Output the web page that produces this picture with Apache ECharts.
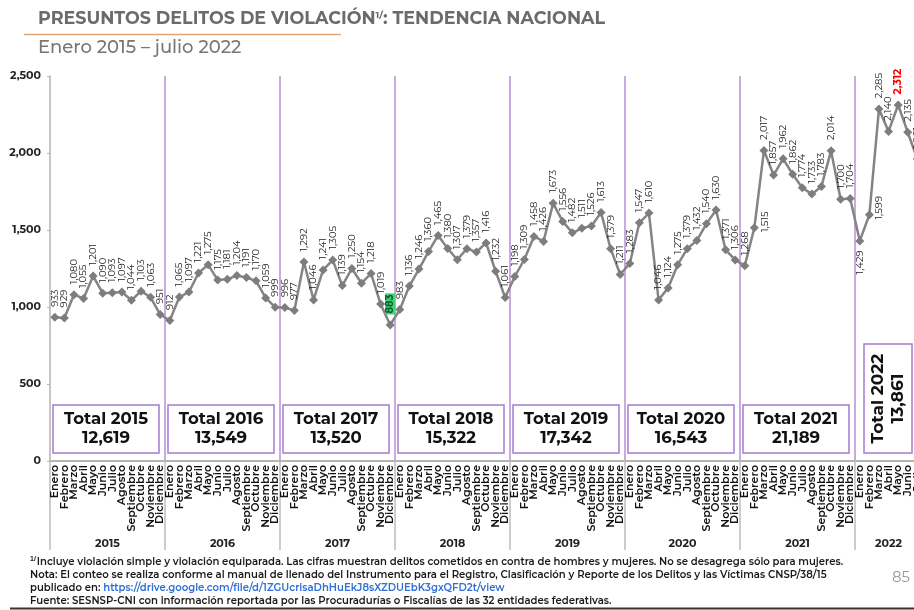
<!DOCTYPE html>
<html>
<head>
<meta charset="utf-8">
<script src="https://cdn.jsdelivr.net/npm/echarts@6/dist/echarts.min.js"></script>
<style>
html,body{margin:0;padding:0;background:#fff;}
#c{width:914px;height:610px;}
</style>
</head>
<body>
<div id="c"></div>
<script>
// ---- Data ----
const monthNames = ['Enero','Febrero','Marzo','Abril','Mayo','Junio','Julio','Agosto','Septiembre','Octubre','Noviembre','Diciembre'];
const years = [2015, 2016, 2017, 2018, 2019, 2020, 2021, 2022];
const v2015 = [933, 929, 1080, 1055, 1201, 1090, 1093, 1097, 1044, 1103, 1063, 951];
const v2016 = [912, 1065, 1097, 1221, 1275, 1175, 1181, 1204, 1191, 1170, 1059, 999];
const v2017 = [996, 977, 1292, 1046, 1241, 1305, 1139, 1250, 1154, 1218, 1019, 883];
const v2018 = [983, 1136, 1246, 1360, 1465, 1380, 1307, 1379, 1357, 1416, 1232, 1061];
const v2019 = [1198, 1309, 1458, 1426, 1673, 1556, 1482, 1511, 1526, 1613, 1379, 1211];
const v2020 = [1283, 1547, 1610, 1046, 1124, 1275, 1379, 1432, 1540, 1630, 1371, 1306];
const v2021 = [1268, 1515, 2017, 1857, 1962, 1862, 1774, 1733, 1783, 2014, 1700, 1704];
const v2022 = [1429, 1599, 2285, 2140, 2312, 2135, 1961];
const yearTotals = [12619, 13549, 13520, 15322, 17342, 16543, 21189, 13861];
const yTicks = [0, 500, 1000, 1500, 2000, 2500];

const yearValues = [v2015, v2016, v2017, v2018, v2019, v2020, v2021, v2022];
const categories = [];
const values = [];
const yearStart = [];
yearValues.forEach(function (arr, yi) {
  yearStart.push(categories.length);
  arr.forEach(function (v, mi) {
    categories.push(monthNames[mi]);
    values.push(v);
  });
});
yearStart.push(categories.length);

const fmt = function (v) { return Number(v).toLocaleString('en-US'); };

// special label styles (by year / month index)
function specialLabel(yi, mi) {
  const y = years[yi];
  if (y === 2017 && mi === 11) return {backgroundColor: '#3fd47a', color: '#0b5e2a', fontWeight: 'bold', padding: [0, 1]};
  if (y === 2022 && mi === 4) return {color: '#ff0000', fontWeight: 'bold', fontSize: 10.5};
  if (y === 2021 && mi === 1) return {position: 'inside', align: 'center', verticalAlign: 'middle', offset: [6, 11]};
  if (y === 2022 && mi === 1) return {position: 'inside', align: 'center', verticalAlign: 'middle', offset: [7, 10]};
  if (y === 2022 && mi === 0) return {position: 'bottom', align: 'right', verticalAlign: 'middle', distance: 5};
  return null;
}

const seriesData = [];
yearValues.forEach(function (arr, yi) {
  arr.forEach(function (v, mi) {
    const s = specialLabel(yi, mi);
    seriesData.push(s ? {value: v, label: s} : v);
  });
});

const chart = echarts.init(document.getElementById('c'), null, {renderer: 'canvas', width: 914, height: 610});
const bandW = 115 / 12;

const font = 'Montserrat, "Open Sans", "Noto Sans", sans-serif';

chart.setOption({
  backgroundColor: '#ffffff',
  animation: false,
  textStyle: {fontFamily: font},
  grid: {left: 50, top: 76, width: bandW * categories.length, height: 385, containLabel: false, outerBoundsMode: 'none'},
  xAxis: {
    type: 'category',
    data: categories,
    boundaryGap: true,
    axisLine: {show: true, lineStyle: {color: '#b4b4b4', width: 2}},
    axisTick: {
      show: true, length: 89,
      interval: function (i) { return yearStart.indexOf(i) >= 0; },
      lineStyle: {color: '#bdbdbd', width: 1.5}
    },
    axisLabel: {
      interval: 0, rotate: 90, fontSize: 11, color: '#111', fontWeight: 600, margin: 4,
      fontFamily: font, hideOverlap: false
    },
    splitLine: {
      show: true,
      interval: function (i) { return i > 0 && yearStart.indexOf(i) >= 0; },
      lineStyle: {color: '#b98fd6', width: 1.5}
    }
  },
  yAxis: {
    type: 'value', min: 0, max: 2500, interval: 500,
    axisLine: {show: true, lineStyle: {color: '#b4b4b4', width: 1.5}},
    axisTick: {show: true, length: 3, lineStyle: {color: '#b4b4b4'}},
    axisLabel: {formatter: function (v) { return fmt(v); }, fontSize: 11, fontWeight: 'bold', color: '#222', margin: 9, fontFamily: font},
    splitLine: {show: false}
  },
  series: [{
    type: 'line',
    data: seriesData,
    symbol: 'diamond',
    symbolSize: 9,
    itemStyle: {color: '#7d7d7d'},
    lineStyle: {color: '#848484', width: 2.5},
    label: {
      show: true, position: 'top', rotate: 90, align: 'left', verticalAlign: 'middle',
      distance: 6, fontSize: 10, color: '#222', fontFamily: font,
      formatter: function (p) { return fmt(p.value); }
    }
  }]
});

// ---- Annotations: titles, year labels, total boxes, footnotes ----
const xc = function (i) { return chart.convertToPixel({xAxisIndex: 0}, i); };
const yp = function (v) { return chart.convertToPixel({yAxisIndex: 0}, v); };
const graphics = [];

graphics.push({
  type: 'text', left: 38, top: 10,
  style: {
    rich: {
      t: {fontSize: 17.5, fontWeight: 'bold', fill: '#6b6b6b', fontFamily: font},
      s: {fontSize: 9.5, fontWeight: 'bold', fill: '#6b6b6b', verticalAlign: 'top', fontFamily: font, padding: [0, 0, 8, 0]}
    },
    text: '{t|PRESUNTOS DELITOS DE VIOLACIÓN}{s|1/}{t|: TENDENCIA NACIONAL}'
  }
});
graphics.push({type: 'line', shape: {x1: 24, y1: 34.5, x2: 341, y2: 34.5}, style: {stroke: '#e3a572', lineWidth: 1.5}});
graphics.push({
  type: 'text', left: 38, top: 39,
  style: {text: 'Enero 2015 – julio 2022', fontSize: 18, fill: '#777', fontFamily: font, fontWeight: 500}
});

years.forEach(function (y, yi) {
  const s = yearStart[yi], e = yearStart[yi + 1] - 1;
  const left = xc(s) - bandW / 2, right = xc(e) + bandW / 2;
  const cx = (left + right) / 2;
  graphics.push({
    type: 'text', x: cx, y: 544,
    style: {text: String(y), fontSize: 11, fontWeight: 'bold', fill: '#222', align: 'center', verticalAlign: 'middle', fontFamily: font}
  });
  if (yi < years.length - 1) {
    const bx = left + 3, bw = right - left - 9, by = yp(0) - 56, bh = 48;
    graphics.push({type: 'rect', shape: {x: bx, y: by, width: bw, height: bh}, style: {fill: '#fff', stroke: '#a77bcf', lineWidth: 1.5}, z: 10});
    graphics.push({
      type: 'text', x: bx + bw / 2, y: by + bh / 2, z: 11,
      style: {text: 'Total ' + y + '\n' + fmt(yearTotals[yi]), fontSize: 16.5, lineHeight: 19, fontWeight: 'bold', fill: '#111', align: 'center', verticalAlign: 'middle', fontFamily: font}
    });
  } else {
    const bx = left + 9, bw = 48, by = yp(0) - 117, bh = 109;
    graphics.push({type: 'rect', shape: {x: bx, y: by, width: bw, height: bh}, style: {fill: '#fff', stroke: '#a77bcf', lineWidth: 1.5}, z: 10});
    graphics.push({
      type: 'text', x: bx + bw / 2, y: by + bh / 2, rotation: Math.PI / 2, z: 11,
      style: {text: 'Total ' + y + '\n' + fmt(yearTotals[yi]), fontSize: 17, lineHeight: 20, fontWeight: 'bold', fill: '#111', align: 'center', verticalAlign: 'middle', fontFamily: font}
    });
  }
});

const fnStyle = {fontSize: 10.1, fontWeight: 600, fill: '#1a1a1a', fontFamily: font};
graphics.push({
  type: 'text', left: 30, top: 556,
  style: {
    rich: {
      sup: {fontSize: 7, fontWeight: 'bold', fill: '#1a1a1a', verticalAlign: 'top', padding: [0, 1, 6, 0]},
      n: fnStyle
    },
    text: '{sup|1/}{n|Incluye violación simple y violación equiparada. Las cifras muestran delitos cometidos en contra de hombres y mujeres. No se desagrega sólo para mujeres.}'
  }
});
graphics.push({type: 'text', left: 30, top: 570, style: Object.assign({text: 'Nota: El conteo se realiza conforme al manual de llenado del Instrumento para el Registro, Clasificación y Reporte de los Delitos y las Víctimas CNSP/38/15'}, fnStyle)});
graphics.push({
  type: 'text', left: 30, top: 583,
  style: {
    rich: {
      n: fnStyle,
      l: {fontSize: 10.1, fontWeight: 600, fill: '#2f6fd6', fontFamily: font, textDecoration: 'underline'}
    },
    text: '{n|publicado en: }{l|https://drive.google.com/file/d/1ZGUcrisaDhHuEkJ8sXZDUEbK3gxQFD2t/view}'
  }
});
graphics.push({type: 'text', left: 30, top: 596, style: Object.assign({text: 'Fuente: SESNSP-CNI con información reportada por las Procuradurías o Fiscalías de las 32 entidades federativas.'}, fnStyle)});
graphics.push({type: 'text', right: 4, top: 570, style: {text: '85', fontSize: 15, fill: '#9a9a9a', fontFamily: font}});
graphics.push({type: 'line', shape: {x1: 10, y1: 608.5, x2: 914, y2: 608.5}, style: {stroke: '#333', lineWidth: 2}});

chart.setOption({graphic: graphics});
</script>
</body>
</html>
